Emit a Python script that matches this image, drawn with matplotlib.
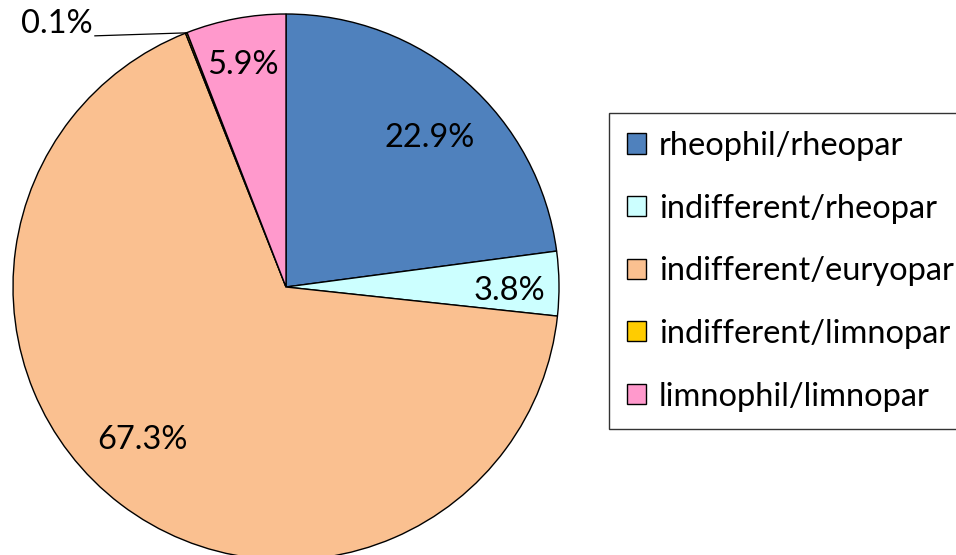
import numpy as np
import matplotlib
matplotlib.use('Agg')
import matplotlib.pyplot as plt

# Datos
categorias = ['rheophil/rheopar', 'indifferent/rheopar', 'indifferent/euryopar',
              'indifferent/limnopar', 'limnophil/limnopar']
porcentajes = [22.9, 3.8, 67.3, 0.1, 5.9]
colores = ['#4F81BD', '#CCFFFF', '#FAC090', '#FFCC00', '#FF99CC']

plt.rcParams['font.family'] = ['Lato', 'DejaVu Sans']
fs = 23.5

fig = plt.figure(figsize=(9.56, 5.55), dpi=100)
W, H = 956, 555
cx, cy, r = 286, 287, 273
ax = fig.add_axes([(cx - r) / W, (H - cy - r) / H, 2 * r / W, 2 * r / H])

wedges, textos, autotextos = ax.pie(
    porcentajes, colors=colores, startangle=90, counterclock=False,
    autopct='%.1f%%', pctdistance=0.79, radius=1,
    wedgeprops=dict(edgecolor='black', linewidth=1.0),
    textprops=dict(fontsize=fs, color='black'))
ax.set_xlim(-1, 1)
ax.set_ylim(-1, 1)
ax.set_aspect('equal')
ax.axis('off')

# ajustar posicion de las etiquetas como en el original
pos_etiquetas = {0: (0.527, 0.546), 1: (0.817, -0.015),
                 2: (-0.527, -0.560), 4: (-0.158, 0.813)}
for i, p in pos_etiquetas.items():
    autotextos[i].set_position(p)

# etiqueta pequeña 0.1% fuera con linea guia
idx = 3
autotextos[idx].set_visible(False)
w = wedges[idx]
ang = np.deg2rad((w.theta1 + w.theta2) / 2)
ex, ey = np.cos(ang), np.sin(ang)
ax.plot([-0.70, ex], [0.92, ey], color='black', lw=0.9, clip_on=False)
ax.text(-0.71, 0.965, f'{porcentajes[idx]:.1f}%', ha='right', va='center',
        fontsize=fs, clip_on=False)

leg = fig.legend(wedges, categorias, loc='upper left',
                 bbox_to_anchor=(609 / W, (H - 113) / H),
                 fontsize=fs, frameon=True, fancybox=False,
                 handlelength=0.58, handleheight=0.58, handletextpad=0.4,
                 labelspacing=1.0, borderpad=0.55, borderaxespad=0)
leg.get_frame().set_edgecolor('black')
leg.get_frame().set_linewidth(1.0)

fig.savefig('out.png', dpi=100)
